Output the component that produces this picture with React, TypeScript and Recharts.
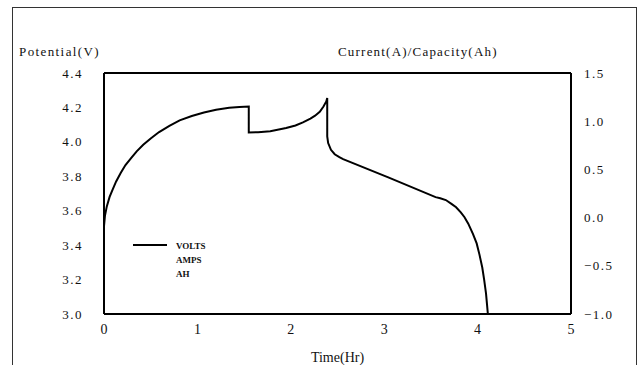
import { LineChart, Line, XAxis, YAxis, Legend } from "recharts";

// time (hr) and cell potential (V)
const TIME = [
  0, 0.01, 0.03, 0.06, 0.09, 0.13, 0.18, 0.23, 0.29, 0.35, 0.42, 0.5, 0.59,
  0.7, 0.81, 0.94, 1.07, 1.2, 1.34, 1.45, 1.55, 1.55, 1.65, 1.78, 1.95, 2.05,
  2.13, 2.21, 2.26, 2.31, 2.35, 2.38, 2.39, 2.39, 2.4, 2.43, 2.47, 2.52, 2.56,
  3.05, 3.55, 3.6, 3.66, 3.72, 3.77, 3.82, 3.86, 3.9, 3.95, 3.99, 4.02, 4.05,
  4.07, 4.09, 4.1, 4.11,
];
const VOLTS = [
  3.51, 3.57, 3.625, 3.68, 3.72, 3.77, 3.82, 3.865, 3.905, 3.945, 3.983, 4.02,
  4.057, 4.093, 4.125, 4.15, 4.171, 4.187, 4.198, 4.203, 4.205, 4.055, 4.056,
  4.062, 4.08, 4.095, 4.113, 4.135, 4.152, 4.175, 4.205, 4.235, 4.255, 4.032,
  3.993, 3.954, 3.928, 3.911, 3.9, 3.792, 3.679, 3.672, 3.662, 3.64, 3.62,
  3.59, 3.562, 3.525, 3.465, 3.41, 3.345, 3.27, 3.2, 3.12, 3.06, 3.0,
];

const X_TICKS = [0, 1, 2, 3, 4, 5];
const LEFT_TICKS = [3.0, 3.2, 3.4, 3.6, 3.8, 4.0, 4.2, 4.4];
const RIGHT_TICKS = [-1.0, -0.5, 0.0, 0.5, 1.0, 1.5];
const LEGEND_ITEMS = ["VOLTS", "AMPS", "AH"];

const data = TIME.map((t, i) => ({ t, volts: VOLTS[i] }));

const SERIF = "'Liberation Serif', 'DejaVu Serif', serif";
const tickStyle = { fill: "#111", fontSize: 13, fontFamily: SERIF, letterSpacing: 1.5 };

function fmtRight(v: number) {
  return v < 0 ? `\u2212${Math.abs(v).toFixed(1)}` : v.toFixed(1);
}

function LegendBox() {
  return (
    <svg width={80} height={44}>
      <line x1={0} y1={6} x2={34} y2={6} stroke="#000" strokeWidth={2} />
      {LEGEND_ITEMS.map((name, i) => (
        <text
          key={name}
          x={43}
          y={9.5 + i * 14}
          fontSize={9}
          fontWeight="bold"
          fontFamily={SERIF}
          fill="#111"
        >
          {name}
        </text>
      ))}
    </svg>
  );
}

export default function App() {
  return (
    <div
      style={{
        position: "absolute",
        left: 0,
        top: 0,
        width: 641,
        height: 365,
        background: "#fff",
        overflow: "hidden",
      }}
    >
      {/* scanned page frame */}
      <div
        style={{
          position: "absolute",
          left: 12,
          top: 7,
          width: 623,
          height: 370,
          borderTop: "1px solid #333",
          borderLeft: "1.5px solid #333",
          borderRight: "1.5px solid #333",
        }}
      />
      <LineChart
        width={641}
        height={365}
        data={data}
        margin={{ top: 72, right: 20, bottom: 1, left: 44 }}
      >
        <XAxis
          xAxisId="top"
          orientation="top"
          dataKey="t"
          type="number"
          domain={[0, 5]}
          height={1}
          tick={false}
          tickLine={false}
          axisLine={{ stroke: "#000", strokeWidth: 2 }}
        />
        <XAxis
          dataKey="t"
          type="number"
          domain={[0, 5]}
          ticks={X_TICKS}
          height={50}
          tickLine={false}
          tickMargin={4}
          axisLine={{ stroke: "#000", strokeWidth: 2 }}
          tick={{ ...tickStyle, letterSpacing: 0, fontSize: 14 }}
          label={{
            value: "Time(Hr)",
            position: "insideBottom",
            offset: 2,
            fill: "#111",
            fontSize: 14,
            fontFamily: SERIF,
          }}
        />
        <YAxis
          yAxisId="left"
          domain={[3.0, 4.4]}
          ticks={LEFT_TICKS}
          width={60}
          tickLine={false}
          tickMargin={15}
          axisLine={{ stroke: "#000", strokeWidth: 2 }}
          tick={tickStyle}
          tickFormatter={(v: number) => v.toFixed(1)}
          label={{
            content: () => (
              <text
                x={19}
                y={56}
                fontSize={13}
                fontFamily={SERIF}
                letterSpacing={1.4}
                fill="#111"
              >
                Potential(V)
              </text>
            ),
          }}
        />
        <YAxis
          yAxisId="right"
          orientation="right"
          domain={[-1.0, 1.5]}
          allowDataOverflow
          ticks={RIGHT_TICKS}
          width={50}
          tickLine={false}
          tickMargin={7}
          axisLine={{ stroke: "#000", strokeWidth: 2 }}
          tick={tickStyle}
          tickFormatter={fmtRight}
          label={{
            content: () => (
              <text
                x={338}
                y={56}
                fontSize={13}
                fontFamily={SERIF}
                letterSpacing={1.2}
                fill="#111"
              >
                Current(A)/Capacity(Ah)
              </text>
            ),
          }}
        />
        <Legend
          layout="vertical"
          align="center"
          verticalAlign="middle"
          wrapperStyle={{ left: 133, top: 239, width: 80 }}
          content={() => <LegendBox />}
        />
        <Line
          yAxisId="left"
          dataKey="volts"
          type="linear"
          stroke="#000"
          strokeWidth={2}
          dot={false}
          isAnimationActive={false}
        />
        {/* invisible series so the right and top axes get drawn */}
        <Line
          yAxisId="right"
          xAxisId="top"
          dataKey="volts"
          stroke="none"
          dot={false}
          activeDot={false}
          legendType="none"
          isAnimationActive={false}
        />
      </LineChart>
    </div>
  );
}
